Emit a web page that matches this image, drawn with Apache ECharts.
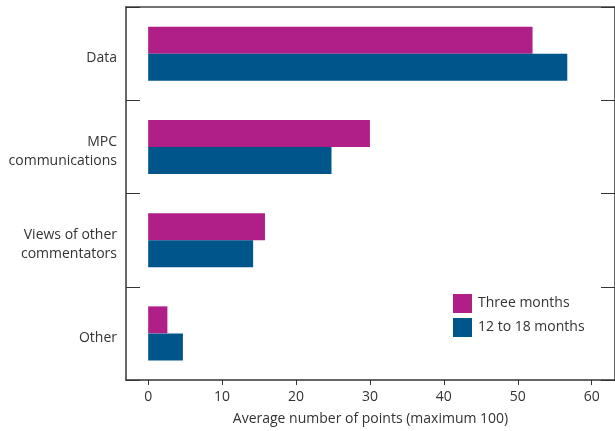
<!DOCTYPE html>
<html><head><meta charset="utf-8">
<script src="https://cdn.jsdelivr.net/npm/echarts@6/dist/echarts.min.js"></script>
<style>html,body{margin:0;padding:0;background:#fff}#c{width:615px;height:431px}</style>
</head><body><div id="c"></div>
<script>
const categories = ['Data', 'MPC\ncommunications', 'Views of other\ncommentators', 'Other'];
const threeMonths = [52, 30, 15.8, 2.6];
const twelveTo18 = [56.7, 24.8, 14.2, 4.7];
const xTicks = [0, 10, 20, 30, 40, 50, 60];
const seriesNames = ['Three months', '12 to 18 months'];

const FONT = 'Open Sans';
const FS = 14;
const TXT = '#333';
const PX_PER_UNIT = 7.422;
const GRID_W = 491;
const chart = echarts.init(document.getElementById('c'));
chart.setOption({
  animation: false,
  textStyle: { fontFamily: FONT },
  grid: { left: 126, top: 7, width: GRID_W, height: 376, containLabel: false },
  legend: {
    orient: 'vertical', left: 453, top: 294, padding: 0, itemWidth: 19, itemHeight: 19, itemGap: 5,
    icon: 'rect', data: seriesNames,
    textStyle: { fontFamily: FONT, fontSize: FS, color: TXT, padding: [0, 0, 0, 1] }
  },
  xAxis: [{
    type: 'value', min: -3, max: -3 + GRID_W / PX_PER_UNIT, position: 'bottom',
    axisLine: { show: true, onZero: false, lineStyle: { color: '#333', width: 1.5 } },
    axisTick: { show: true, customValues: xTicks, length: 5, lineStyle: { color: '#333' } },
    axisLabel: { customValues: xTicks, margin: 10, fontSize: FS, color: TXT, fontFamily: FONT },
    splitLine: { show: false },
    name: 'Average number of points (maximum 100)', nameLocation: 'middle', nameGap: 32,
    nameTextStyle: { fontSize: FS, color: TXT, fontFamily: FONT }
  }, {
    type: 'value', min: -3, max: -3 + GRID_W / PX_PER_UNIT, position: 'top',
    axisLine: { show: true, onZero: false, lineStyle: { color: '#444', width: 1.5 } },
    axisTick: { show: false }, axisLabel: { show: false }, splitLine: { show: false }
  }],
  yAxis: [{
    type: 'category', data: categories, inverse: true, position: 'left',
    axisLine: { show: true, onZero: false, lineStyle: { color: '#333', width: 1.5 } },
    axisTick: { show: true, inside: true, length: 14, lineStyle: { color: '#333' } },
    axisLabel: {
      margin: 9, align: 'right',
      formatter: v => '{s| }\n' + v.split('\n').map(l => '{a|' + l + '}').join('\n'),
      rich: {
        s: { fontSize: 1, lineHeight: 9 },
        a: { fontSize: FS, lineHeight: 19, color: TXT, fontFamily: FONT, align: 'right' }
      }
    }
  }, {
    type: 'category', data: categories, inverse: true, position: 'right',
    axisLine: { show: true, onZero: false, lineStyle: { color: '#333', width: 1.5 } },
    axisTick: { show: true, inside: true, length: 14, lineStyle: { color: '#333' } },
    axisLabel: { show: false }
  }],
  series: [{
    name: seriesNames[0], type: 'bar', data: threeMonths, barWidth: 27, barGap: '0%',
    itemStyle: { color: '#B01E87' }
  }, {
    name: seriesNames[1], type: 'bar', data: twelveTo18, barWidth: 27, barGap: '0%',
    itemStyle: { color: '#00558A' }
  }]
});
</script></body></html>
